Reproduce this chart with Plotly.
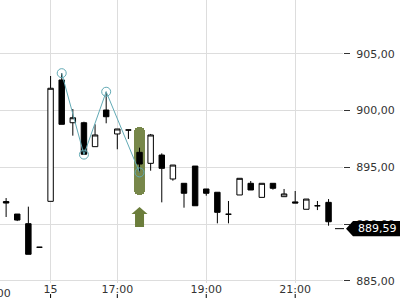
import plotly.graph_objects as go

# ---- data (15-min candles; index 0 = first candle of day 15) ----
idx = list(range(-4, 26))
opens = [891.98, 890.88, 890.03, 887.95, 892.00, 902.70, 898.93, 898.93, 896.82, 900.05,
         897.94, 898.29, 896.32, 895.35, 896.08, 893.97, 893.59, 895.11, 893.09, 892.80,
         890.86, 892.56, 893.59, 892.35, 893.59, 892.41, 891.95, 891.30, 891.61, 891.91]
highs = [892.29, 890.88, 891.53, 887.95, 903.05, 903.30, 900.14, 899.02, 898.79, 901.66,
         898.38, 898.29, 896.73, 897.94, 896.23, 895.20, 893.59, 895.11, 893.09, 892.80,
         892.03, 894.03, 893.79, 893.59, 893.59, 893.09, 892.91, 892.20, 892.03, 892.20]
lows = [890.62, 890.26, 887.33, 887.95, 892.00, 898.79, 897.79, 896.12, 896.82, 898.88,
        896.59, 897.50, 894.55, 894.70, 891.91, 893.82, 891.44, 891.61, 892.50, 890.06,
        890.06, 892.56, 893.00, 892.35, 893.03, 892.41, 891.85, 891.30, 891.23, 889.85]
closes = [891.85, 890.35, 887.33, 887.95, 901.97, 898.79, 899.37, 896.15, 897.85, 899.46,
          898.38, 898.29, 895.29, 897.85, 894.91, 895.20, 892.71, 891.61, 892.71, 891.03,
          890.86, 894.03, 893.00, 893.59, 893.15, 892.65, 891.85, 892.20, 891.61, 890.20]

tick_idx = [-5, 0, 6, 14, 22]
tick_text = ["21:00", "15", "17:00", "19:00", "21:00"]

pivot_idx = [1, 3, 5, 8]
pivot_kind = ["high", "low", "high", "low"]

signal_idx = [8]
signal_low = [892.56]
signal_high = [898.58]

last_price = 889.59

# ---- styling ----
X_RANGE = [-4.55, 26.3]
Y_RANGE = [884.80, 909.75]
FONT = "DejaVu Sans"
TXT = "#333333"
GRID = "#dddddd"
TEAL = "#62aab5"
OLIVE = "#6b7d3b"

pivot_price = [highs[idx.index(i)] if k == "high" else lows[idx.index(i)]
               for i, k in zip(pivot_idx, pivot_kind)]

fig = go.Figure()

fig.add_trace(go.Bar(
    x=signal_idx, base=signal_low,
    y=[h - l for h, l in zip(signal_high, signal_low)],
    width=1.05, marker=dict(color=OLIVE, cornerradius=6, line=dict(width=0)),
    opacity=0.92, hoverinfo="skip", showlegend=False))

fig.add_trace(go.Candlestick(
    x=idx, open=opens, high=highs, low=lows, close=closes,
    increasing=dict(fillcolor="white", line=dict(color="black", width=1)),
    decreasing=dict(fillcolor="black", line=dict(color="black", width=1)),
    whiskerwidth=0, hoverinfo="skip", showlegend=False))

fig.add_trace(go.Scatter(
    x=pivot_idx, y=pivot_price, mode="lines+markers",
    line=dict(color=TEAL, width=1),
    marker=dict(symbol="circle-open", size=9, color=TEAL, line=dict(width=1)),
    hoverinfo="skip", showlegend=False))

shapes = []
# signal arrow under the highlight
for sx, sl in zip(signal_idx, signal_low):
    shapes.append(dict(
        type="path", xref="x", yref="y", xsizemode="pixel", ysizemode="pixel",
        xanchor=sx, yanchor=sl,
        path="M 0,-12 L 8,-19 L 4.5,-19 L 4.5,-32 L -4.5,-32 L -4.5,-19 L -8,-19 Z",
        fillcolor=OLIVE, line=dict(width=0), layer="above"))

# last price marker
shapes.append(dict(
    type="path", xref="paper", yref="y", xsizemode="pixel", ysizemode="pixel",
    xanchor=1, yanchor=last_price,
    path="M 3,0 L 10,7.7 L 58,7.7 L 58,-7.7 L 10,-7.7 Z",
    fillcolor="black", line=dict(width=0), layer="above"))
shapes.append(dict(
    type="line", xref="paper", yref="y", xsizemode="pixel", ysizemode="pixel",
    xanchor=1, yanchor=last_price, x0=-8, x1=1, y0=0, y1=0,
    line=dict(color="black", width=1), layer="above"))

# small ticks under the time labels
span = X_RANGE[1] - X_RANGE[0]
for t in tick_idx:
    fx = (t - X_RANGE[0]) / span
    if 0 <= fx <= 1:
        shapes.append(dict(type="line", xref="paper", yref="paper",
                           x0=fx, x1=fx, y0=-0.039, y1=-0.053,
                           line=dict(color="black", width=1)))

annotations = [dict(
    xref="paper", yref="y", x=1, y=last_price, xshift=34,
    text=f"{last_price:.2f}".replace(".", ","), showarrow=False,
    font=dict(family=FONT, size=11, color="white"), xanchor="center", yanchor="middle")]

# tick label that sits just off the left edge
for t, lab in zip(tick_idx, tick_text):
    fx = (t - X_RANGE[0]) / span
    if fx < 0:
        annotations.append(dict(
            xref="paper", yref="paper", x=fx, y=0, yshift=-2, text=lab, showarrow=False,
            xanchor="center", yanchor="top", font=dict(family=FONT, size=11, color=TXT)))

vis_ticks = [(t, l) for t, l in zip(tick_idx, tick_text) if X_RANGE[0] <= t <= X_RANGE[1]]

fig.update_layout(
    width=400, height=300,
    margin=dict(l=0, r=57, t=0, b=17),
    paper_bgcolor="white", plot_bgcolor="white",
    separators=", ",
    font=dict(family=FONT, size=11, color=TXT),
    showlegend=False,
    bargap=0,
    shapes=shapes,
    annotations=annotations,
    xaxis=dict(
        range=X_RANGE, rangeslider=dict(visible=False),
        tickmode="array", tickvals=[t for t, _ in vis_ticks], ticktext=[l for _, l in vis_ticks],
        showgrid=True, gridcolor=GRID, gridwidth=1, zeroline=False,
        showline=False, ticks="", ticklabelstandoff=-2,
        tickfont=dict(family=FONT, size=11, color=TXT)),
    yaxis=dict(
        range=Y_RANGE, side="right", dtick=5, tick0=885, tickformat=".2f",
        showgrid=True, gridcolor=GRID, gridwidth=1, zeroline=False, showline=False,
        ticks="outside", ticklen=6, tickcolor=TXT, ticklabelstandoff=4,
        tickfont=dict(family=FONT, size=11, color=TXT)),
)

fig.write_html("out.html")
